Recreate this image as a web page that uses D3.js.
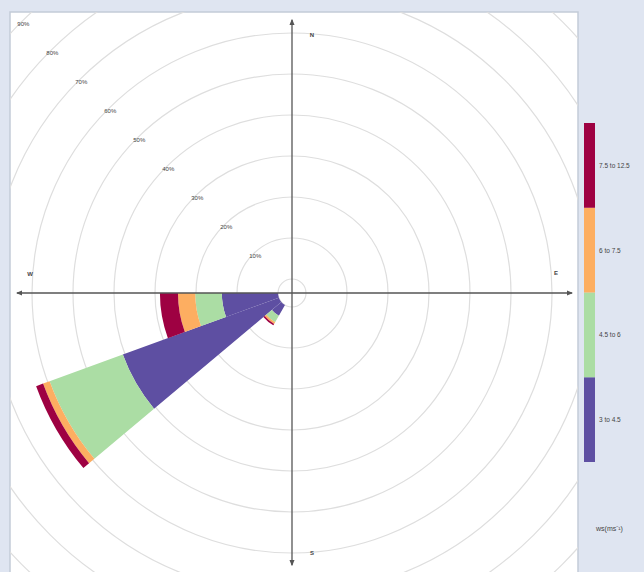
<!DOCTYPE html>
<html>
<head>
<meta charset="utf-8">
<script src="https://cdn.jsdelivr.net/npm/d3@7"></script>
<style>
  body { margin: 0; background: #dfe5f1; }
  svg { display: block; font-family: "Liberation Sans", Arial, sans-serif; }
</style>
</head>
<body>
<svg id="chart" width="644" height="572"></svg>
<script>
// wind direction bins (degrees, centre of each petal)
const directions = [220, 240, 260];

// wind speed intervals, bottom of the stack first
const speedBins = ["3 to 4.5", "4.5 to 6", "6 to 7.5", "7.5 to 12.5"];
const binColours = ["#5E4FA2", "#ABDDA4", "#FDAE61", "#9E0142"];

// frequency (%) of each speed interval per direction
const freq3to45 = [3.0, 40.5, 13.7];
const freq45to6 = [1.8, 19.0, 6.5];
const freq6to75 = [0.5, 1.7, 4.2];
const freq75to125 = [0.4, 1.8, 4.4];

// grid circles and labels
const ringTicks = [10, 20, 30, 40, 50, 60, 70, 80, 90];
const ringLabels = ["10%", "20%", "30%", "40%", "50%", "60%", "70%", "80%", "90%"];
const compassLabels = ["N", "E", "S", "W"];
const legendTitle = "ws(ms\u207B\u00B9)";

// build a table the stack layout can use
const rows = directions.map((dir, i) => ({
  dir: dir,
  "3 to 4.5": freq3to45[i],
  "4.5 to 6": freq45to6[i],
  "6 to 7.5": freq6to75[i],
  "7.5 to 12.5": freq75to125[i]
}));

const svg = d3.select("#chart");

// plot panel
const panel = { x: 10, y: 12, w: 568, h: 562 };
const cx = 292, cy = 293;

svg.append("rect")
  .attr("x", panel.x).attr("y", panel.y)
  .attr("width", panel.w).attr("height", panel.h)
  .attr("fill", "#fff")
  .attr("stroke", "#c3cbd8")
  .attr("stroke-width", 1.5);

svg.append("clipPath").attr("id", "panelClip")
  .append("rect")
  .attr("x", panel.x).attr("y", panel.y)
  .attr("width", panel.w).attr("height", panel.h);

const g = svg.append("g")
  .attr("clip-path", "url(#panelClip)")
  .append("g")
  .attr("transform", "translate(" + cx + "," + cy + ")");

// radial scale, zero sits on the small offset circle
const rScale = d3.scaleLinear().domain([0, 90]).range([14, 383]);
const angle = d3.scaleLinear().domain([0, 360]).range([0, 2 * Math.PI]);
const halfWidth = 10;

// grid circles
g.selectAll("circle.ring")
  .data([0].concat(ringTicks))
  .enter()
  .append("circle")
  .attr("class", "ring")
  .attr("r", d => rScale(d))
  .attr("fill", "none")
  .attr("stroke", "#dedede")
  .attr("stroke-width", 1.2);

// stacked petals
const series = d3.stack().keys(speedBins)(rows);
const colour = d3.scaleOrdinal().domain(speedBins).range(binColours);
const arc = d3.arc();

g.selectAll("g.layer")
  .data(series)
  .enter()
  .append("g")
  .attr("class", "layer")
  .attr("fill", d => colour(d.key))
  .selectAll("path")
  .data(d => d)
  .enter()
  .append("path")
  .attr("d", d => arc({
    innerRadius: rScale(d[0]),
    outerRadius: rScale(d[1]),
    startAngle: angle(d.data.dir - halfWidth),
    endAngle: angle(d.data.dir + halfWidth)
  }));

// axes with arrowheads
const defs = svg.append("defs");
defs.append("marker")
  .attr("id", "arrow")
  .attr("viewBox", "0 0 10 10")
  .attr("refX", 8).attr("refY", 5)
  .attr("markerWidth", 5).attr("markerHeight", 5)
  .attr("orient", "auto-start-reverse")
  .append("path")
  .attr("d", "M0,1 L10,5 L0,9 z")
  .attr("fill", "#555");

const axisG = svg.append("g");
axisG.append("line")
  .attr("x1", 17).attr("x2", 572)
  .attr("y1", cy).attr("y2", cy)
  .attr("stroke", "#555").attr("stroke-width", 1.3)
  .attr("marker-start", "url(#arrow)")
  .attr("marker-end", "url(#arrow)");
axisG.append("line")
  .attr("x1", cx).attr("x2", cx)
  .attr("y1", 20).attr("y2", 565)
  .attr("stroke", "#555").attr("stroke-width", 1.3)
  .attr("marker-start", "url(#arrow)")
  .attr("marker-end", "url(#arrow)");

// compass letters
const compassPos = [
  [cx + 20, cy - 258],
  [cx + 264, cy - 20],
  [cx + 20, cy + 260],
  [cx - 262, cy - 19]
];
svg.selectAll("text.compass")
  .data(compassLabels)
  .enter()
  .append("text")
  .attr("class", "compass")
  .attr("x", (d, i) => compassPos[i][0])
  .attr("y", (d, i) => compassPos[i][1])
  .attr("text-anchor", "middle")
  .attr("dominant-baseline", "central")
  .attr("font-size", "6px")
  .attr("font-weight", "bold")
  .attr("fill", "#444")
  .text(d => d);

// percentage labels along the north-west diagonal
const labelAngle = angle(315);
g.selectAll("text.pct")
  .data(ringTicks)
  .enter()
  .append("text")
  .attr("class", "pct")
  .attr("x", d => (rScale(d) - 3) * Math.sin(labelAngle))
  .attr("y", d => -(rScale(d) - 3) * Math.cos(labelAngle))
  .attr("text-anchor", "middle")
  .attr("dominant-baseline", "central")
  .attr("font-size", "6px")
  .attr("fill", "#444")
  .text((d, i) => ringLabels[i]);

// colour key
const keyScale = d3.scaleBand()
  .domain(speedBins.slice().reverse())
  .range([123, 462]);

const key = svg.append("g");
key.selectAll("rect")
  .data(speedBins)
  .enter()
  .append("rect")
  .attr("x", 584)
  .attr("y", d => keyScale(d))
  .attr("width", 11)
  .attr("height", keyScale.bandwidth())
  .attr("fill", d => colour(d));

key.selectAll("text")
  .data(speedBins)
  .enter()
  .append("text")
  .attr("x", 599)
  .attr("y", d => keyScale(d) + keyScale.bandwidth() / 2)
  .attr("dominant-baseline", "central")
  .attr("font-size", "6.5px")
  .attr("fill", "#444")
  .text(d => d);

svg.append("text")
  .attr("x", 596)
  .attr("y", 528)
  .attr("dominant-baseline", "central")
  .attr("font-size", "7px")
  .attr("fill", "#444")
  .text(legendTitle);
</script>
</body>
</html>
